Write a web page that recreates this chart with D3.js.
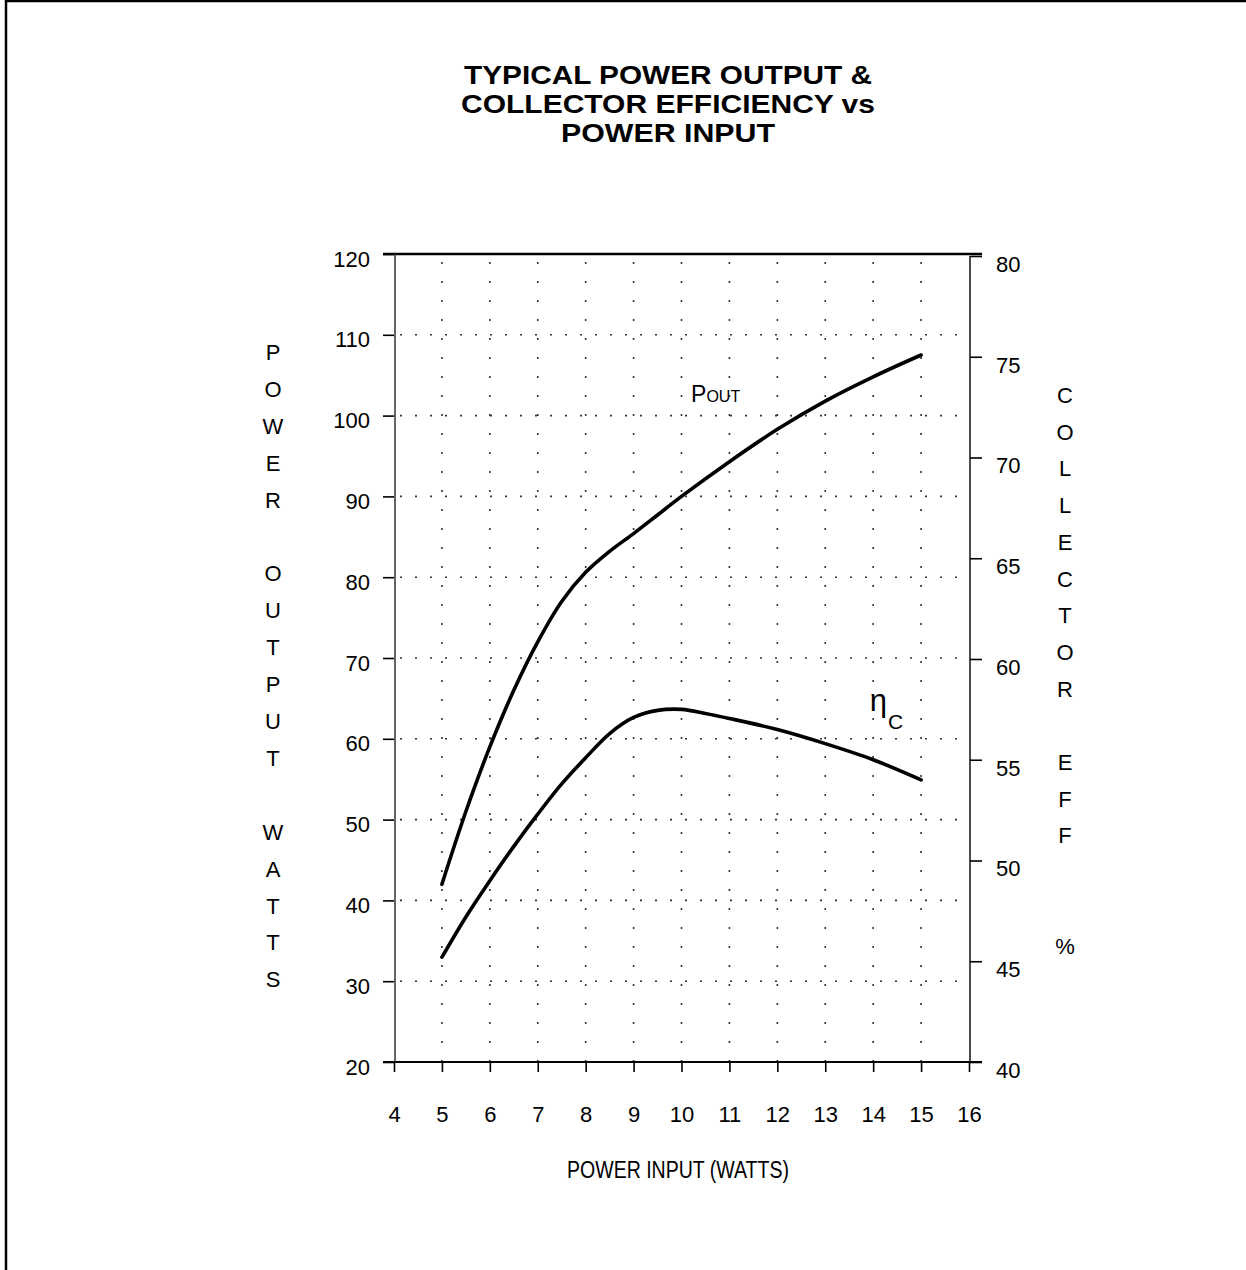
<!DOCTYPE html>
<html>
<head>
<meta charset="utf-8">
<script src="https://cdn.jsdelivr.net/npm/d3@7"></script>
<style>
  body { margin: 0; background: #fff; }
  svg { display: block; }
  text { fill: #000; }
</style>
</head>
<body>
<div id="chart"></div>
<script>
// data
const xTicks = [4, 5, 6, 7, 8, 9, 10, 11, 12, 13, 14, 15, 16];
const leftTicks = [20, 30, 40, 50, 60, 70, 80, 90, 100, 110, 120];
const rightTicks = [40, 45, 50, 55, 60, 65, 70, 75, 80];

const poutX = [5, 5.5, 6, 6.5, 7, 7.5, 8, 8.5, 9, 9.5, 10, 11, 12, 13, 14, 15];
const poutY = [42, 51, 59, 66, 72, 77, 80.6, 83.2, 85.4, 87.7, 90, 94.3, 98.3, 101.8, 104.8, 107.5];

const effX = [5, 5.5, 6, 6.5, 7, 7.5, 8, 8.5, 9, 9.5, 10, 10.5, 11, 12, 13, 14, 15];
const effY = [45.2, 47.2, 49.0, 50.7, 52.3, 53.8, 55.1, 56.3, 57.1, 57.45, 57.5, 57.3, 57.05, 56.5, 55.8, 55.0, 54.0];

const W = 1246, H = 1270;
const font = '"Liberation Sans", Arial, sans-serif';

const svg = d3.select('#chart').append('svg').attr('width', W).attr('height', H);

// page frame (top and left edges, like the scan)
svg.append('line').attr('x1', 5).attr('x2', W).attr('y1', 1).attr('y2', 1).attr('stroke', '#000').attr('stroke-width', 2.5);
svg.append('line').attr('x1', 6).attr('x2', 6).attr('y1', 0).attr('y2', H).attr('stroke', '#000').attr('stroke-width', 2.5);

const x = d3.scaleLinear().domain([4, 16]).range([394, 969]);
const yL = d3.scaleLinear().domain([20, 120]).range([1062, 254]);
const yR = d3.scaleLinear().domain([40, 80]).range([1062, 256]);

// title
const title = ['TYPICAL POWER OUTPUT &', 'COLLECTOR EFFICIENCY vs', 'POWER INPUT'];
const titleLen = [408, 414, 214];
svg.append('g').selectAll('text').data(title).enter().append('text')
  .attr('x', 668)
  .attr('y', (d, i) => 83.5 + i * 29.2)
  .attr('text-anchor', 'middle')
  .attr('font-family', font)
  .attr('font-weight', 'bold')
  .attr('font-size', 26)
  .attr('textLength', (d, i) => titleLen[i])
  .attr('lengthAdjust', 'spacingAndGlyphs')
  .text(d => d);

// dotted grid
const grid = svg.append('g').attr('stroke', '#333').attr('stroke-width', 1.6);
grid.selectAll('.gx').data(xTicks.slice(1, -1)).enter().append('line')
  .attr('stroke-dasharray', '2,17')
  .attr('x1', d => x(d)).attr('x2', d => x(d))
  .attr('y1', yL(120) + 8).attr('y2', yL(20));
grid.selectAll('.gy').data(leftTicks.slice(1, -1)).enter().append('line')
  .attr('stroke-dasharray', '2,13')
  .attr('x1', x(4) + 6).attr('x2', x(16))
  .attr('y1', d => yL(d)).attr('y2', d => yL(d));

// frame lines of the plot
svg.append('line').attr('x1', x(4) - 11).attr('x2', x(16) + 13).attr('y1', yL(120)).attr('y2', yL(120))
  .attr('stroke', '#000').attr('stroke-width', 2.5);
svg.append('line').attr('x1', x(4) - 11).attr('x2', x(16) + 13).attr('y1', yL(20)).attr('y2', yL(20))
  .attr('stroke', '#000').attr('stroke-width', 2);
svg.append('line').attr('x1', x(4) + 1).attr('x2', x(4) + 1).attr('y1', yL(120)).attr('y2', yL(20))
  .attr('stroke', '#333').attr('stroke-width', 1.5);
svg.append('line').attr('x1', x(16) + 1).attr('x2', x(16) + 1).attr('y1', yR(80)).attr('y2', yR(40))
  .attr('stroke', '#111').attr('stroke-width', 1.5);

// axes
function styleAxis(g) {
  g.select('.domain').remove();
  g.selectAll('line').attr('stroke', '#000').attr('stroke-width', 1.6);
  g.selectAll('text').attr('font-family', font).attr('font-size', 22).attr('fill', '#000');
}

svg.append('g').attr('transform', `translate(${x(4)},0)`)
  .call(d3.axisLeft(yL).tickValues(leftTicks).tickSize(11).tickPadding(13).tickFormat(d3.format('d')))
  .call(styleAxis)
  .selectAll('text').attr('dy', '0.55em');

svg.append('g').attr('transform', `translate(${x(16) + 1},0)`)
  .call(d3.axisRight(yR).tickValues(rightTicks).tickSize(12).tickPadding(14).tickFormat(d3.format('d')))
  .call(styleAxis)
  .selectAll('text').attr('dy', '0.7em');

svg.append('g').attr('transform', `translate(0,${yL(20)})`)
  .call(d3.axisBottom(x).tickValues(xTicks).tickSize(10).tickPadding(34).tickFormat(d3.format('d')))
  .call(styleAxis);

// x axis title
svg.append('text')
  .attr('x', 678).attr('y', 1178)
  .attr('text-anchor', 'middle')
  .attr('font-family', font).attr('font-size', 23)
  .attr('textLength', 222).attr('lengthAdjust', 'spacingAndGlyphs')
  .text('POWER INPUT (WATTS)');

// stacked side titles
const leftTitle = 'POWER OUTPUT WATTS'.split('');
const rightTitle = 'COLLECTOR EFF  %'.split('');
svg.append('g').selectAll('text').data(leftTitle).enter().append('text')
  .attr('x', 273).attr('y', (d, i) => 360 + i * 36.9)
  .attr('text-anchor', 'middle')
  .attr('font-family', font).attr('font-size', 22)
  .text(d => d);
svg.append('g').selectAll('text').data(rightTitle).enter().append('text')
  .attr('x', 1065).attr('y', (d, i) => 403 + i * 36.7)
  .attr('text-anchor', 'middle')
  .attr('font-family', font).attr('font-size', 22)
  .text(d => d);

// curves
const pout = poutX.map((v, i) => [v, poutY[i]]);
const eff = effX.map((v, i) => [v, effY[i]]);
const smooth = d3.curveCatmullRom.alpha(0.5);

svg.append('path').datum(pout)
  .attr('fill', 'none').attr('stroke', '#000').attr('stroke-width', 3.6).attr('stroke-linecap', 'round')
  .attr('d', d3.line().x(d => x(d[0])).y(d => yL(d[1])).curve(smooth));

svg.append('path').datum(eff)
  .attr('fill', 'none').attr('stroke', '#000').attr('stroke-width', 3.6).attr('stroke-linecap', 'round')
  .attr('d', d3.line().x(d => x(d[0])).y(d => yR(d[1])).curve(smooth));

// curve labels
const pLabel = svg.append('text')
  .attr('x', x(10.2)).attr('y', yL(101.7))
  .attr('font-family', font).attr('font-size', 23);
pLabel.append('tspan').text('P');
pLabel.append('tspan').attr('font-size', 16).text('OUT');

const eLabel = svg.append('text')
  .attr('x', x(13.93)).attr('y', yR(57.4))
  .attr('font-family', font).attr('font-size', 31);
eLabel.append('tspan').text('η');
eLabel.append('tspan').attr('font-size', 21).attr('dy', 18).attr('dx', 1).text('C');
</script>
</body>
</html>
